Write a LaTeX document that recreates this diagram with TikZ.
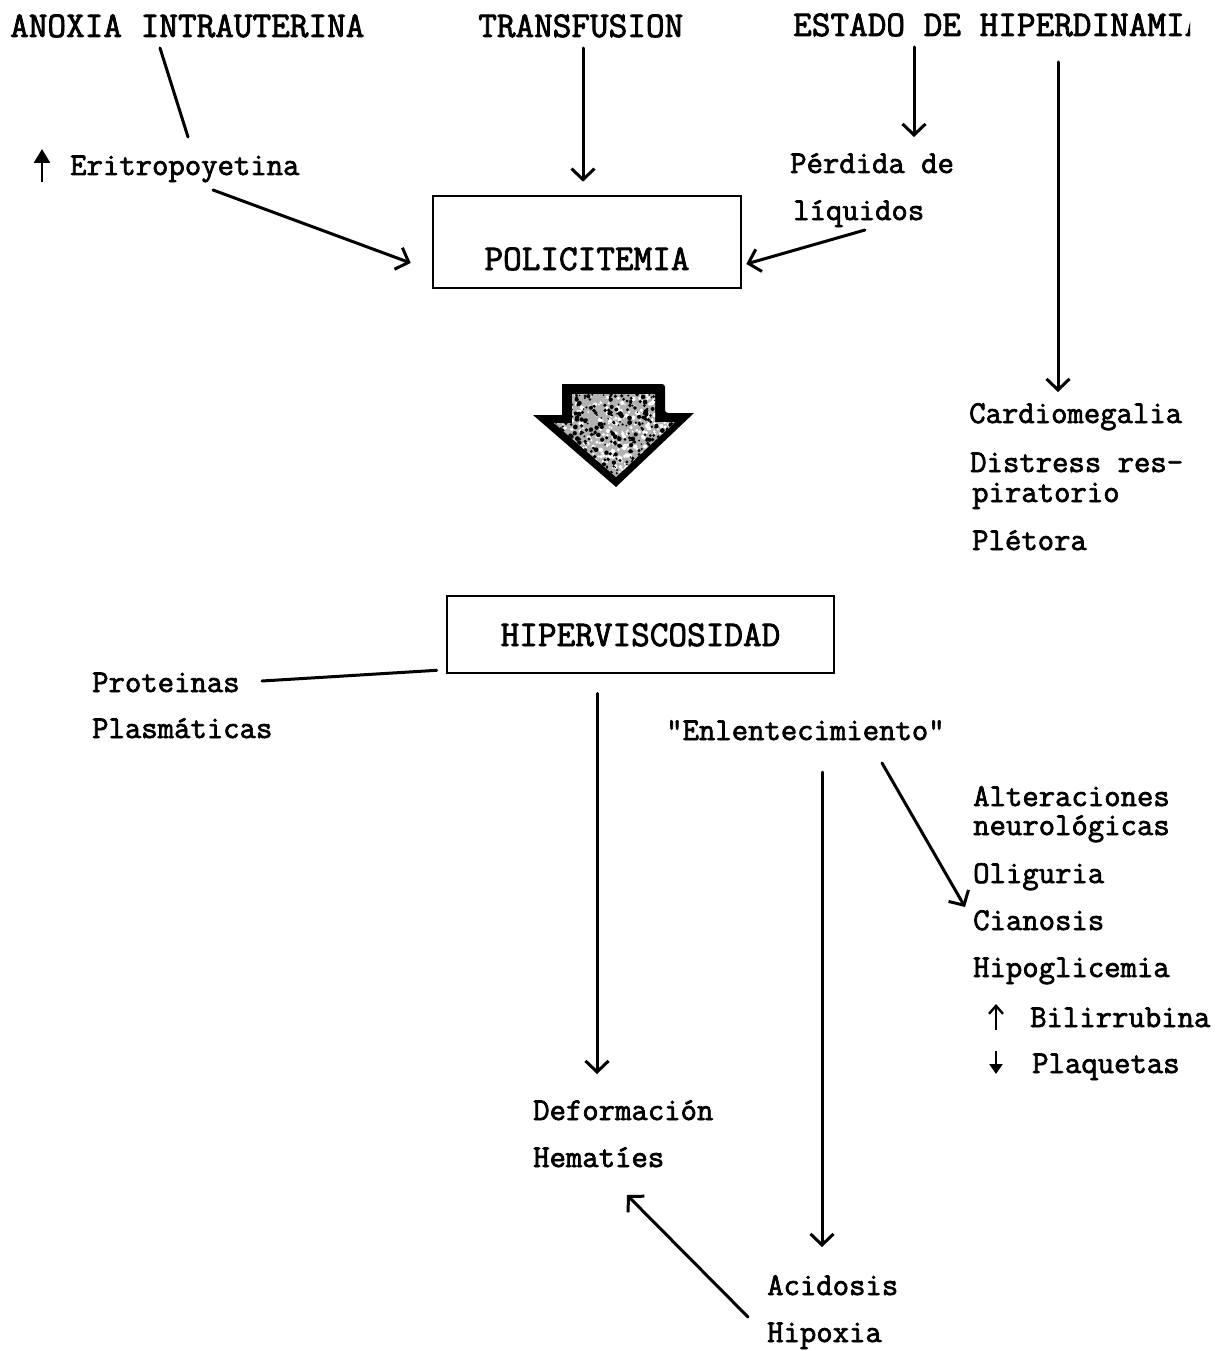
\documentclass[tikz,border=0pt]{standalone}
\usepackage{fontspec}
\usetikzlibrary{arrows.meta,calc}
% serif typewriter face, thickened
\newfontfamily\twfont[FakeBold=2.2]{Latin Modern Mono}
\newcommand\twcaps{\twfont\fontsize{36.2}{39}\selectfont}
\newcommand\twlow{\twfont\fontsize{31.8}{34}\selectfont}

\tikzset{
  capslbl/.style={anchor=base west, inner sep=0pt, font=\twcaps},
  lbl/.style={anchor=base west, inner sep=0pt, font=\twlow},
  box/.style={draw, line width=2.6pt, inner sep=0pt, font=\twcaps},
  link/.style={line width=3pt, line cap=round},
  arr/.style={link, -{Straight Barb[length=11pt,width=23pt]}},
  mark up/.style={line width=2.6pt, -{Triangle[length=14pt,width=16pt]}},
  small up/.style={line width=2.4pt, -{Straight Barb[length=8pt,width=14pt]}},
  small down/.style={line width=2.4pt, -{Triangle[length=10pt,width=13pt]}},
}

\begin{document}
\begin{tikzpicture}[x=1pt,y=-1pt]
  \useasboundingbox (0,0) rectangle (1222,1351);
  \fill[white] (0,0) rectangle (1222,1351);

  % ---- causes ----
  \node[capslbl] (anoxia) at (10,37) {ANOXIA INTRAUTERINA};
  \node[capslbl] (transf) at (478,37) {TRANSFUSION};
  \begin{scope}
    % the last letter runs off the sheet edge
    \clip (780,0) rectangle (1190,60);
    \node[capslbl] (estado) at (793,36) {ESTADO DE HIPERDINAMIA};
  \end{scope}

  \node[lbl] (erit) at (70,175) {Eritropoyetina};
  \node[lbl] (perd) at (790,173) {Pérdida de};
  \node[lbl] (liq)  at (793,220) {líquidos};

  % ---- boxes ----
  \node[box, minimum width=308pt, text height=74pt, text depth=18pt] (poli) at (587,242) {POLICITEMIA};
  \node[box, minimum width=387pt, text height=50pt, text depth=27pt] (hiperv) at (640.5,634.5) {HIPERVISCOSIDAD};

  % ---- right column, upper ----
  \node[lbl] (cardio) at (969,423) {Cardiomegalia};
  \node[lbl] (distr)  at (970,472) {Distress res-};
  \node[lbl] (pirat)  at (972,502) {piratorio};
  \node[lbl] (plet)   at (972,550) {Plétora};

  % ---- left and middle ----
  \node[lbl] (prot)   at (92,692) {Proteinas};
  \node[lbl] (plasm)  at (92,738) {Plasmáticas};
  \node[lbl] (enlent) at (666,740) {"Enlentecimiento"};
  \node[lbl] (deform) at (533,1120) {Deformación};
  \node[lbl] (hemat)  at (533,1167) {Hematíes};
  \node[lbl] (acid)   at (767,1295) {Acidosis};
  \node[lbl] (hipox)  at (767,1342) {Hipoxia};

  % ---- right column, lower ----
  \node[lbl] (alter)  at (973,806) {Alteraciones};
  \node[lbl] (neuro)  at (973,835) {neurológicas};
  \node[lbl] (olig)   at (973,883) {Oliguria};
  \node[lbl] (cian)   at (973,930) {Cianosis};
  \node[lbl] (hipog)  at (973,977) {Hipoglicemia};
  \node[lbl] (bili)   at (1030,1027) {Bilirrubina};
  \node[lbl] (plaq)   at (1032,1073) {Plaquetas};

  % small up/down marks in front of labels
  \draw[mark up]    ([shift={(-28,7)}]erit.base west) -- ++(0,-33);
  \draw[small up]   ([shift={(-34,3)}]bili.base west) -- ++(0,-26);
  \draw[small down] ([shift={(-36,-22)}]plaq.base west) -- ++(0,23);

  % ---- connectors ----
  \draw[link] ([shift={(150,11)}]anoxia.base west) -- ([shift={(118,-38)}]erit.base west);
  \draw[arr]  ([shift={(143,15)}]erit.base west) -- ([shift={(-21,21)}]poli.west);
  \draw[arr]  ([shift={(105,11)}]transf.base west) -- ([shift={(-4,-13)}]poli.north);
  \draw[arr]  ([shift={(121,11)}]estado.base west) -- ([shift={(124,-36)}]perd.base west);
  \draw[arr]  ([shift={(72,10)}]liq.base west) -- ([shift={(4,22)}]poli.east);
  \draw[arr]  ([shift={(265,26)}]estado.base west) -- ([shift={(89,-31)}]cardio.base west);

  \draw[link] ([shift={(170,-11)}]prot.base west) -- ([shift={(-9,-4)}]hiperv.south west);
  \draw[arr]  ([shift={(-43.5,19)}]hiperv.south) -- ([shift={(64,-46)}]deform.base west);
  \draw[arr]  ([shift={(156,32)}]enlent.base west) -- ([shift={(55,-48)}]acid.base west);
  \draw[arr]  ([shift={(216,23)}]enlent.base west) -- ([shift={(-8,-23)}]cian.base west);
  \draw[arr]  ([shift={(-19,-25)}]hipox.base west) -- ([shift={(94,28)}]hemat.base west);

  % ---- large block arrow with speckled fill ----
  \fill[black, rounded corners=3pt]
    (562,384) -- (665,384) -- (665,413) [sharp corners] -- (694,413) -- (616,487) -- (533,415) -- (562,415) -- cycle;
  \begin{scope}
    \clip (572,394) -- (655,394) -- (655,422) -- (675,422) -- (616,477) -- (554,423) -- (572,423) -- cycle;
    \fill[black!30] (550,390) rectangle (680,480);
    \pgfmathsetseed{4711}
    \foreach \i in {1,...,420} {
      \pgfmathsetmacro{\px}{552+126*rnd}
      \pgfmathsetmacro{\py}{392+86*rnd}
      \pgfmathsetmacro{\pr}{0.8+1.5*rnd}
      \fill[white] (\px,\py) circle (\pr pt);
    }
    \foreach \i in {1,...,420} {
      \pgfmathsetmacro{\px}{552+126*rnd}
      \pgfmathsetmacro{\py}{392+86*rnd}
      \pgfmathsetmacro{\pr}{0.8+1.7*rnd}
      \fill[black] (\px,\py) circle (\pr pt);
    }
  \end{scope}
\end{tikzpicture}
\end{document}
